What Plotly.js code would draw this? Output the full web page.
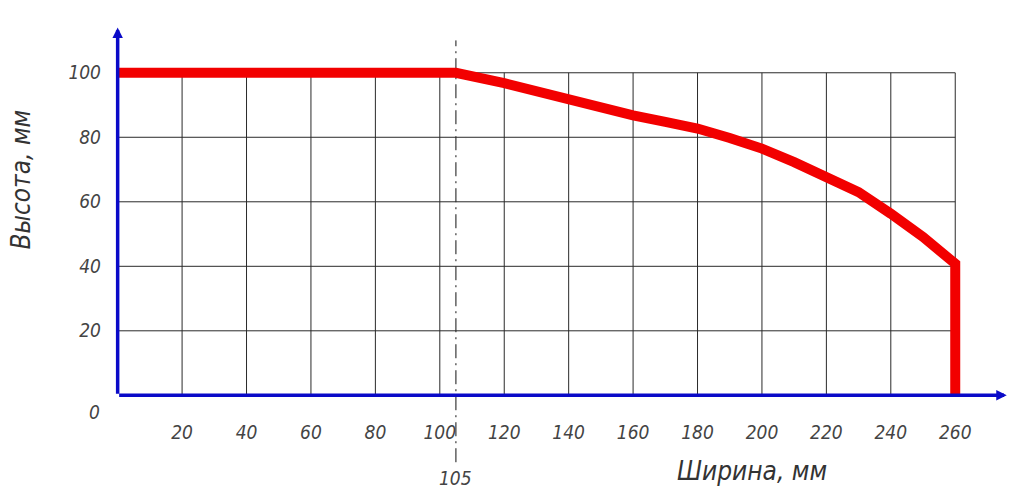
<!DOCTYPE html>
<html>
<head>
<meta charset="utf-8">
<script src="https://cdn.plot.ly/plotly-3.0.1.min.js"></script>
<style>html,body{margin:0;padding:0;background:#fff;}#chart{width:1024px;height:499px;}</style>
</head>
<body>
<div id="chart"></div>
<script>
// ---- data ----
const widthMm  = [0, 105, 120, 140, 160, 170, 180, 190, 200, 210, 220, 230, 240, 250, 260, 260];
const heightMm = [100, 100, 96.8, 91.5, 86.8, 84.8, 82.7, 79.8, 76.5, 72.3, 67.9, 63.0, 56.3, 49.1, 40.8, 0];
const xTickVals = [20, 40, 60, 80, 100, 120, 140, 160, 180, 200, 220, 240, 260];
const yTickVals = [20, 40, 60, 80, 100];
const markX = 105;
const xTitle = "Ширина, мм";
const yTitle = "Высота, мм";

const gridXMax = xTickVals[xTickVals.length - 1];
const gridYMax = yTickVals[yTickVals.length - 1];
const fam = "'Liberation Sans Narrow', 'DejaVu Sans Condensed', 'Liberation Sans', sans-serif";
const tickFont = {family: fam, size: 19, color: "#444", style: "italic"};
const titleFont = {family: fam, size: 26, color: "#333", style: "italic"};
const blue = "#0a0ac8";

const shapes = [];
xTickVals.forEach(v => shapes.push({type: "line", layer: "below", xref: "x", yref: "y",
  x0: v, x1: v, y0: 0, y1: gridYMax, line: {color: "#2a2a2a", width: 1}}));
yTickVals.forEach(v => shapes.push({type: "line", layer: "below", xref: "x", yref: "y",
  x0: 0, x1: gridXMax, y0: v, y1: v, line: {color: "#2a2a2a", width: 1}}));
shapes.push({type: "line", layer: "below", xref: "x", yref: "paper",
  x0: markX, x1: markX, y0: -0.151, y1: 0.962,
  line: {color: "#111", width: 1, dash: "14px,5px,2px,5px"}});

const annotations = [
  // axis arrows
  {xref: "x", yref: "y", axref: "x", ayref: "y", x: 0, y: 114, ax: 0, ay: 0, text: "",
   showarrow: true, arrowhead: 2, arrowsize: 0.6, arrowwidth: 3.5, arrowcolor: blue},
  {xref: "x", yref: "y", axref: "x", ayref: "y", x: 276, y: 0, ax: 0, ay: 0, text: "",
   showarrow: true, arrowhead: 2, arrowsize: 0.6, arrowwidth: 3.5, arrowcolor: blue},
  {xref: "x", yref: "y", x: 0, y: 0, text: "0", showarrow: false, xanchor: "right", yanchor: "top",
   xshift: -16, yshift: -4, font: tickFont},
  {xref: "x", yref: "paper", x: markX, y: -0.193, text: String(markX), showarrow: false,
   xanchor: "center", yanchor: "middle", font: tickFont},
  {xref: "x", yref: "paper", x: 197, y: -0.175, text: xTitle, showarrow: false,
   xanchor: "center", yanchor: "middle", font: titleFont},
  {xref: "paper", yref: "y", x: -0.096, y: 67, text: yTitle, showarrow: false, textangle: -90,
   xanchor: "center", yanchor: "middle", font: titleFont}
];

const trace = {
  x: widthMm, y: heightMm, type: "scatter", mode: "lines",
  line: {color: "#f20000", width: 10}, hoverinfo: "skip"
};

const layout = {
  width: 1024, height: 499,
  margin: {l: 108, r: 14, t: 26, b: 94},
  paper_bgcolor: "#fff", plot_bgcolor: "#fff",
  showlegend: false,
  xaxis: {range: [-3, 277], tickvals: xTickVals, ticktext: xTickVals.map(String),
    showgrid: false, zeroline: false, showline: false, ticks: "",
    ticklabelstandoff: 14, tickfont: tickFont, fixedrange: true},
  yaxis: {range: [-3, 114.5], tickvals: yTickVals, ticktext: yTickVals.map(String),
    showgrid: false, zeroline: false, showline: false, ticks: "",
    ticklabelstandoff: 6, tickfont: tickFont, fixedrange: true},
  shapes: shapes,
  annotations: annotations
};

Plotly.newPlot("chart", [trace], layout, {displayModeBar: false, staticPlot: true});
</script>
</body>
</html>
